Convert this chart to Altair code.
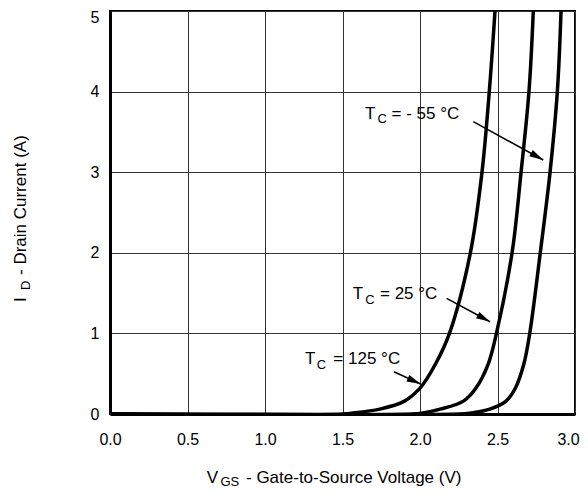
import altair as alt
import pandas as pd

# ---- data ----
id_points = [0.0, 0.0, 0.01, 0.06, 0.16, 0.32, 0.62, 1.0, 2.0, 3.0, 4.0, 5.0]
vgs_125 = [0.0, 1.50, 1.56, 1.74, 1.90, 2.00, 2.10, 2.19, 2.325, 2.400, 2.447, 2.484]
vgs_25 = [0.0, 1.95, 2.01, 2.13, 2.28, 2.36, 2.44, 2.493, 2.594, 2.652, 2.703, 2.731]
vgs_m55 = [0.0, 2.25, 2.32, 2.45, 2.555, 2.615, 2.67, 2.708, 2.776, 2.839, 2.886, 2.910]

x_ticks = [0.0, 0.5, 1.0, 1.5, 2.0, 2.5, 3.0]
y_ticks = [0, 1, 2, 3, 4, 5]

# annotation labels (data coordinates)
ann_main_text = ["= - 55 °C", "= 25 °C", "= 125 °C"]
ann_T_x = [1.645, 1.566, 1.258]
ann_T_y = [3.656, 1.427, 0.620]
ann_C_x = [1.726, 1.646, 1.334]
ann_C_y = [3.614, 1.365, 0.558]
ann_main_x = [1.816, 1.742, 1.441]

# arrows (data coordinates)
arrow_x = [2.344, 2.172, 1.832]
arrow_y = [3.627, 1.435, 0.525]
arrow_tip_x = [2.795, 2.452, 2.004]
arrow_tip_y = [3.151, 1.145, 0.372]
arrow_angle = [119.7, 118.4, 114.7]

FONT = "Liberation Sans"

rows = []
for name, xs in (("125", vgs_125), ("25", vgs_25), ("-55", vgs_m55)):
    for i, (v, c) in enumerate(zip(xs, id_points)):
        rows.append({"curve": name, "vgs": v, "id": c, "order": i})
curves = pd.DataFrame(rows)

ann_T = pd.DataFrame({"x": ann_T_x, "y": ann_T_y, "t": ["T"] * 3})
ann_C = pd.DataFrame({"x": ann_C_x, "y": ann_C_y, "t": ["C"] * 3})
ann_main = pd.DataFrame({"x": ann_main_x, "y": ann_T_y, "t": ann_main_text})
arrows = pd.DataFrame({"x": arrow_x, "y": arrow_y, "x2": arrow_tip_x,
                       "y2": arrow_tip_y, "angle": arrow_angle})

x_scale = alt.Scale(domain=[0, 3], nice=False, zero=False)
y_scale = alt.Scale(domain=[0, 5], nice=False)

x_axis = alt.Axis(values=x_ticks, format=".1f", title=None, tickSize=0,
                  labelPadding=17, labelFontSize=16, labelFont=FONT,
                  labelColor="black", domainColor="black", domainWidth=3,
                  gridColor="#333333", gridWidth=1, gridOpacity=1,
                  labelFlush=False, labelOverlap=False,
                  labelOffset={"condition": {"test": "datum.value == 3", "value": -7},
                               "value": 0})
y_axis = alt.Axis(values=y_ticks, format="d", title=None, tickSize=0,
                  labelPadding=11, labelFontSize=16, labelFont=FONT,
                  labelColor="black", domainColor="black", domainWidth=3,
                  gridColor="#333333", gridWidth=1, gridOpacity=1,
                  labelFlush=False, labelOverlap=False,
                  labelOffset={"condition": {"test": "datum.value == 5", "value": 6},
                               "value": 0})


def X(field):
    return alt.X(field, scale=x_scale, axis=x_axis)


def Y(field):
    return alt.Y(field, scale=y_scale, axis=y_axis)


lines = alt.Chart(curves).mark_line(
    interpolate="catmull-rom", color="black", strokeWidth=3.5, clip=True
).encode(x=X("vgs:Q"), y=Y("id:Q"), detail="curve:N", order="order:Q")

t_main = alt.Chart(ann_T).mark_text(
    align="left", baseline="alphabetic", font=FONT, fontSize=17, color="black"
).encode(x=X("x:Q"), y=Y("y:Q"), text="t:N")

t_sub = alt.Chart(ann_C).mark_text(
    align="left", baseline="alphabetic", font=FONT, fontSize=13, color="black"
).encode(x=X("x:Q"), y=Y("y:Q"), text="t:N")

t_rest = alt.Chart(ann_main).mark_text(
    align="left", baseline="alphabetic", font=FONT, fontSize=17, color="black"
).encode(x=X("x:Q"), y=Y("y:Q"), text="t:N")

shafts = alt.Chart(arrows).mark_rule(color="black", strokeWidth=1.6).encode(
    x=X("x:Q"), y=Y("y:Q"), x2="x2:Q", y2="y2:Q")

heads = alt.Chart(arrows).mark_point(
    shape="M0,0L-0.36,1.4L0.36,1.4Z", size=400, filled=True,
    color="black", opacity=1, strokeWidth=0
).encode(x=X("x2:Q"), y=Y("y2:Q"), angle=alt.Angle("angle:Q", scale=None))

one = pd.DataFrame({"a": [0]})


def label(text, px, py, size, angle=0):
    kw = dict(align="left", baseline="alphabetic", font=FONT,
              fontSize=size, color="black", text=text)
    if angle:
        kw["angle"] = angle
    return alt.Chart(one).mark_text(**kw).encode(
        x=alt.value(px), y=alt.value(py))


titles = [
    label("V", 96.7, 471.5, 17),
    label("GS", 110.5, 475, 13),
    label("- Gate-to-Source Voltage (V)", 136, 471.5, 17),
    label("I", -84, 291, 17, 270),
    label("D", -80, 279, 13, 270),
    label("- Drain Current (A)", -84, 264, 17, 270),
]

chart = alt.layer(lines, shafts, heads, t_main, t_sub, t_rest, *titles).properties(
    width=465, height=403,
    padding={"left": 102, "top": 3, "right": 5, "bottom": 76},
    autosize=alt.AutoSizeParams(type="none"),
    background="white",
).configure_view(stroke="black", strokeWidth=2)

chart.save("out.html", embed_options={"renderer": "svg", "actions": False})
